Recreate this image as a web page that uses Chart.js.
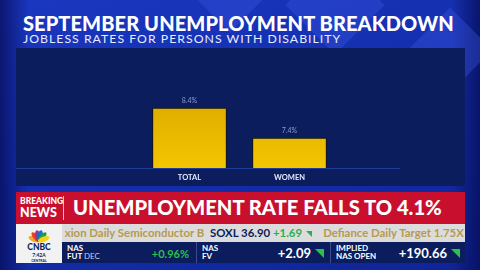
<!DOCTYPE html>
<html>
<head>
<meta charset="utf-8">
<script src="https://cdn.jsdelivr.net/npm/chart.js@4"></script>
<style>
  html, body { margin: 0; padding: 0; }
  body {
    width: 480px; height: 270px; overflow: hidden; position: relative;
    font-family: "Lato", "Open Sans", sans-serif;
    background:
      linear-gradient(90deg, rgba(5,10,80,0.7) 0%, rgba(5,10,80,0) 6%, rgba(5,10,80,0) 94%, rgba(5,10,80,0.7) 100%),
      linear-gradient(160deg, #1a37c0 0%, #1530b0 40%, #0f2596 100%);
  }
  .shape { position: absolute; background: rgba(60,90,230,0.35); transform: rotate(45deg); }
  #title { position: absolute; left: 23px; top: 11px; color: #fff; font-weight: 900; font-size: 20px; letter-spacing: 0.1px; white-space: nowrap; }
  #sub { position: absolute; left: 23px; top: 31px; color: #e8ecff; font-size: 12.3px; letter-spacing: 1px; white-space: nowrap; }
  #panel { position: absolute; left: 16px; top: 48px; width: 449px; height: 138px; background: #0b1d5c; }
  #panel canvas { position: absolute; left: 0; top: 0; }
  #red { position: absolute; left: 16px; top: 192px; width: 449px; height: 32px; background: #c8102e; }
  #bn { position: absolute; left: 4px; top: 4px; color: #fff; font-weight: 900; line-height: 11px; }
  #bn .a { font-size: 8.5px; } #bn .b { font-size: 12.5px; }
  #sep { position: absolute; left: 47px; top: 4px; width: 1px; height: 24px; background: rgba(255,255,255,0.7); }
  #headline { position: absolute; left: 57px; top: 3px; color: #fff; font-weight: 900; font-size: 20.2px; white-space: nowrap; }
  #ticker { position: absolute; left: 62px; top: 224px; width: 403px; height: 18px; background: #dcdcdc; font-size: 11.4px; font-weight: 700; line-height: 18px; white-space: nowrap; overflow: hidden; }
  #low { position: absolute; left: 62px; top: 242px; width: 403px; height: 21px; background: #0b1d5c; color: #fff; }
  .cell { position: absolute; top: 0; height: 21px; border-left: 1px solid #3a4c8c; }
  .lab { position: absolute; left: 5px; top: 2px; font-size: 8px; line-height: 8px; font-weight: 700; }
  .val { position: absolute; right: 6px; top: 3px; font-size: 13px; font-weight: 700; }
  .tri { display: inline-block; width: 0; height: 0; border-left: 9px solid transparent; border-top: 9px solid #2bc24a; margin-left: 4px; }
  #logo { position: absolute; left: 16px; top: 224px; width: 46px; height: 39px; background: #f2f2f2; }
</style>
</head>
<body>
<div class="shape" style="left:200px;top:-40px;width:60px;height:60px"></div>
<div class="shape" style="left:300px;top:-30px;width:70px;height:70px"></div>
<div class="shape" style="left:420px;top:20px;width:60px;height:60px"></div>
<div id="title">SEPTEMBER UNEMPLOYMENT BREAKDOWN</div>
<div id="sub">JOBLESS RATES FOR PERSONS WITH DISABILITY</div>
<div id="panel"><canvas id="grafico" width="449" height="138"></canvas></div>
<div id="red">
  <div id="bn"><div class="a">BREAKING</div><div class="b">NEWS</div></div>
  <div id="sep"></div>
  <div id="headline">UNEMPLOYMENT RATE FALLS TO 4.1%</div>
</div>
<div id="ticker">
  <span style="color:#b59a52">&nbsp;xion Daily Semiconductor B</span>
  <span style="color:#0b1d5c">&nbsp;SOXL 36.90</span>
  <span style="color:#2bb14a">+1.69</span><span class="tri" style="width:0;height:0;border-left:6px solid transparent;border-top:6px solid #2bb14a"></span>
  <span style="color:#b59a52">&nbsp;&nbsp;&nbsp;Defiance Daily Target 1.75X</span>
</div>
<div id="low">
  <div class="cell" style="left:0;width:133px;border-left:none"><div class="lab">NAS<br>FUT <span style="font-weight:400;color:#c8d0f0">DEC</span></div><div class="val" style="color:#2bc24a;font-size:11px;top:5px">+0.96%</div></div>
  <div class="cell" style="left:134px;width:133px"><div class="lab">NAS<br>FV</div><div class="val">+2.09<span class="tri"></span></div></div>
  <div class="cell" style="left:268px;width:135px"><div class="lab">IMPLIED<br>NAS OPEN</div><div class="val">+190.66<span class="tri"></span></div></div>
</div>
<div id="logo">
  <svg width="46" height="39" viewBox="0 0 46 39">
    <g transform="translate(23,17)">
      <ellipse rx="2.6" ry="6" transform="rotate(-70) translate(0,-5)" fill="#f5a623"/>
      <ellipse rx="2.6" ry="6" transform="rotate(-40) translate(0,-5)" fill="#e8412b"/>
      <ellipse rx="2.6" ry="6" transform="rotate(-12) translate(0,-5)" fill="#8a3b97"/>
      <ellipse rx="2.6" ry="6" transform="rotate(12) translate(0,-5)" fill="#1d6fc2"/>
      <ellipse rx="2.6" ry="6" transform="rotate(40) translate(0,-5)" fill="#19a14a"/>
      <ellipse rx="2.6" ry="6" transform="rotate(70) translate(0,-5)" fill="#f7d21a"/>
    </g>
    <text x="23" y="26" text-anchor="middle" font-family="Lato" font-weight="900" font-size="8.5" fill="#0b1d5c">CNBC</text>
    <text x="23" y="33" text-anchor="middle" font-family="Lato" font-weight="700" font-size="5" fill="#0b1d5c">7:42A</text>
    <text x="23" y="38" text-anchor="middle" font-family="Lato" font-weight="700" font-size="3.5" fill="#0b1d5c">CENTRAL</text>
  </svg>
</div>
<script>
// taxa de desemprego - pessoas com deficiência (setembro)
const categorias = ['TOTAL', 'WOMEN'];
const taxas = [8.4, 7.4];
const rotulos = ['8.4%', '7.4%'];

// linha de base que passa por baixo das barras
const linhaBase = {
    id: 'linhaBase',
    beforeDatasetsDraw(chart) {
        const c = chart.ctx;
        const y = chart.scales.y.bottom;
        c.save();
        c.strokeStyle = '#1f3d96';
        c.lineWidth = 1;
        c.beginPath();
        c.moveTo(0, y + 0.5);
        c.lineTo(384, y + 0.5);
        c.stroke();
        c.restore();
    }
};

// valores em cima das barras
const valores = {
    id: 'valores',
    afterDatasetsDraw(chart) {
        const c = chart.ctx;
        c.save();
        c.fillStyle = '#8d9ccf';
        c.font = '7px Lato';
        c.textAlign = 'center';
        chart.getDatasetMeta(0).data.forEach((bar, i) => {
            c.fillText(rotulos[i], bar.x, bar.y - 5);
        });
        c.restore();
    }
};

const ctx = document.getElementById('grafico');

new Chart(ctx, {
    type: 'bar',
    data: {
        labels: categorias,
        datasets: [{
            data: taxas,
            backgroundColor: function (context) {
                const area = context.chart.chartArea;
                if (!area) return '#efbe00';
                const g = context.chart.ctx.createLinearGradient(0, area.top, 0, area.bottom);
                g.addColorStop(0, '#d9a800');
                g.addColorStop(1, '#f4c500');
                return g;
            },
            borderColor: '#14140c',
            borderWidth: 1,
            barThickness: 74
        }]
    },
    options: {
        responsive: false,
        animation: false,
        layout: { padding: { left: 123.5, right: 125.5, top: 42, bottom: 0 } },
        scales: {
            x: {
                grid: { display: false, drawTicks: false },
                border: { display: false },
                ticks: { color: '#e6eaff', font: { family: 'Lato', size: 7.5, weight: 'bold' }, padding: 5 },
                afterFit: function (scale) { scale.height = 18; }
            },
            y: {
                display: false,
                min: 6.4,
                max: 9
            }
        },
        plugins: {
            legend: { display: false },
            tooltip: { enabled: false }
        }
    },
    plugins: [linhaBase, valores]
});
</script>
</body>
</html>
